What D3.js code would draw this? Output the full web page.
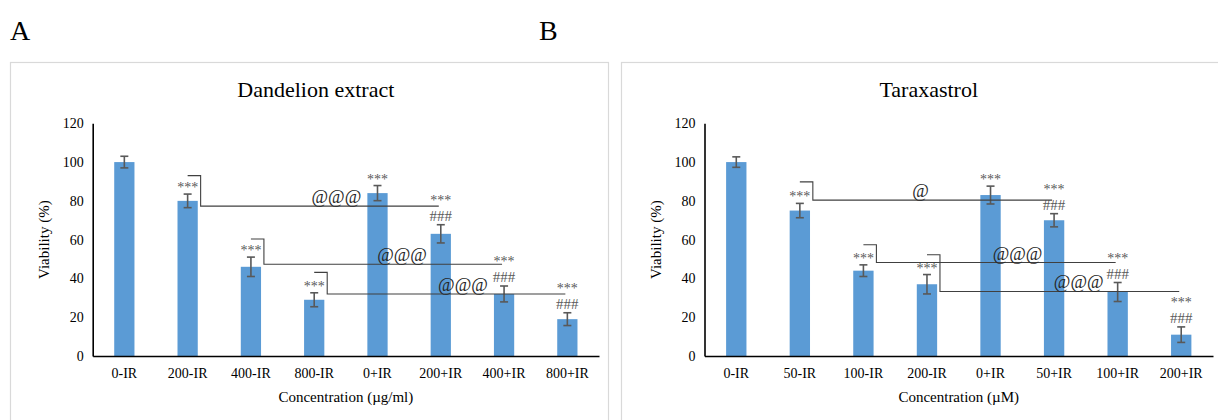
<!DOCTYPE html>
<html>
<head>
<meta charset="utf-8">
<script src="https://cdn.jsdelivr.net/npm/d3@7"></script>
<style>
	body { margin: 0; background: #fff; }
	svg text { font-family: "Liberation Serif", "Times New Roman", serif; }
</style>
</head>
<body>
<div id="chart"></div>
<script>
//------------------------------------------------------------------------------
// data
//------------------------------------------------------------------------------
var yTicks = [0, 20, 40, 60, 80, 100, 120];

var dandelionCats  = ['0-IR', '200-IR', '400-IR', '800-IR', '0+IR', '200+IR', '400+IR', '800+IR'];
var dandelionVals  = [100, 80, 46, 29, 84, 63, 32, 19];
var dandelionErr   = [3, 3.5, 5, 3.6, 3.9, 4.7, 4.1, 3.3];
var dandelionStars = ['', '***', '***', '***', '***', '***', '***', '***'];
var dandelionHash  = ['', '', '', '', '', '###', '###', '###'];
// bracket: from bar, to bar, upper level, line level, label, label spot along line
var dandelionBrackets = [
	{f: '200-IR', t: '200+IR', hi: 93, lo: 77.3, s: '@@@', at: 0.57},
	{f: '400-IR', t: '400+IR', hi: 60.3, lo: 47.3, s: '@@@', at: 0.58},
	{f: '800-IR', t: '800+IR', hi: 43.1, lo: 32, s: '@@@', at: 0.57}
];

var taraxCats  = ['0-IR', '50-IR', '100-IR', '200-IR', '0+IR', '50+IR', '100+IR', '200+IR'];
var taraxVals  = [100, 75, 44, 37, 83, 70, 33, 11];
var taraxErr   = [2.7, 3.7, 3, 5, 4.6, 3.4, 4.9, 4];
var taraxStars = ['', '***', '***', '***', '***', '***', '***', '***'];
var taraxHash  = ['', '', '', '', '', '###', '###', '###'];
var taraxBrackets = [
	{f: '50-IR', t: '50+IR', hi: 89.8, lo: 80.4, s: '@', at: 0.45},
	{f: '100-IR', t: '100+IR', hi: 57.4, lo: 48.2, s: '@@@', at: 0.59},
	{f: '200-IR', t: '200+IR', hi: 52.2, lo: 33.3, s: '@@@', at: 0.58}
];

//------------------------------------------------------------------------------
var W = 1218, H = 420;

var svg = d3.select('#chart')
	.append('svg')
	.attr('width', W)
	.attr('height', H);

// panel letters
svg.append('text').attr('x', 10).attr('y', 40)
	.style('font-size', '28px').text('A');
svg.append('text').attr('x', 539).attr('y', 40)
	.style('font-size', '28px').text('B');

drawPanel({
	box: [10, 62, 598, 370],
	x0: 92.7, x1: 599,
	title: 'Dandelion extract',
	xTitle: 'Concentration (\u00b5g/ml)',
	cats: dandelionCats, vals: dandelionVals, err: dandelionErr,
	stars: dandelionStars, hash: dandelionHash, brackets: dandelionBrackets
});

drawPanel({
	box: [621, 62, 610, 370],
	x0: 704.5, x1: 1213,
	title: 'Taraxastrol',
	xTitle: 'Concentration (\u00b5M)',
	cats: taraxCats, vals: taraxVals, err: taraxErr,
	stars: taraxStars, hash: taraxHash, brackets: taraxBrackets
});

//------------------------------------------------------------------------------
function drawPanel(o) {
	var yBot = 356, yTop = 123.3;

	// light chart-area frame
	svg.append('rect')
		.attr('x', o.box[0] + 0.5).attr('y', o.box[1] + 0.5)
		.attr('width', o.box[2]).attr('height', o.box[3])
		.attr('fill', 'none')
		.attr('stroke', '#d9d9d9')
		.attr('stroke-width', 1.2);

	var x = d3.scaleBand().domain(o.cats).range([o.x0, o.x1]).paddingInner(0.68).paddingOuter(0.34);
	var y = d3.scaleLinear().domain([0, 120]).range([yBot, yTop]);
	var cx = function(c) { return x(c) + x.bandwidth() / 2; };

	var rows = o.cats.map(function(c, i) {
		return {c: c, v: o.vals[i], e: o.err[i], s: o.stars[i], h: o.hash[i]};
	});

	var g = svg.append('g');

	// bars
	g.selectAll('.bar')
		.data(rows)
		.enter()
		.append('rect')
		.attr('class', 'bar')
		.attr('x', function(d) { return x(d.c); })
		.attr('width', x.bandwidth())
		.attr('y', function(d) { return y(d.v); })
		.attr('height', function(d) { return yBot - y(d.v); })
		.attr('fill', '#5b9bd5');

	// error bars
	var eb = g.selectAll('.err')
		.data(rows)
		.enter()
		.append('g')
		.attr('class', 'err')
		.attr('stroke', '#595959')
		.attr('stroke-width', 1.6);
	eb.append('line')
		.attr('x1', function(d) { return cx(d.c); })
		.attr('x2', function(d) { return cx(d.c); })
		.attr('y1', function(d) { return y(d.v + d.e); })
		.attr('y2', function(d) { return y(d.v - d.e); });
	[1, -1].forEach(function(k) {
		eb.append('line')
			.attr('x1', function(d) { return cx(d.c) - 4; })
			.attr('x2', function(d) { return cx(d.c) + 4; })
			.attr('y1', function(d) { return y(d.v + k * d.e); })
			.attr('y2', function(d) { return y(d.v + k * d.e); });
	});

	// significance marks
	g.selectAll('.hash')
		.data(rows.filter(function(d) { return d.h; }))
		.enter()
		.append('text')
		.attr('x', function(d) { return cx(d.c); })
		.attr('y', function(d) { return y(d.v + d.e) - 4; })
		.attr('text-anchor', 'middle')
		.attr('fill', '#595959')
		.style('font-size', '15px')
		.text(function(d) { return d.h; });

	g.selectAll('.stars')
		.data(rows.filter(function(d) { return d.s; }))
		.enter()
		.append('text')
		.attr('x', function(d) { return cx(d.c); })
		.attr('y', function(d) { return y(d.v + d.e) - (d.h ? 20 : 2); })
		.attr('text-anchor', 'middle')
		.attr('fill', '#595959')
		.style('font-size', '14px')
		.text(function(d) { return d.s; });

	// comparison brackets
	o.brackets.forEach(function(b) {
		var xa = cx(b.f), xc = xa + 13, xe = cx(b.t) - 2;
		g.append('path')
			.attr('d', 'M' + xa + ',' + y(b.hi) + 'H' + xc + 'V' + y(b.lo) + 'H' + xe)
			.attr('fill', 'none')
			.attr('stroke', '#404040')
			.attr('stroke-width', 1.1);
		g.append('text')
			.attr('x', xc + (xe - xc) * b.at)
			.attr('y', y(b.lo) - 3)
			.attr('text-anchor', 'middle')
			.attr('fill', '#262626')
			.style('font-size', '18px')
			.text(b.s);
	});

	// y axis
	var ya = svg.append('g')
		.attr('transform', 'translate(' + o.x0 + ',0)')
		.call(d3.axisLeft(y).tickValues(yTicks).tickSize(0).tickPadding(9));
	ya.select('.domain').attr('stroke', '#000').attr('stroke-width', 1.6);
	ya.selectAll('text')
		.style('font-family', '"Liberation Serif", serif')
		.style('font-size', '14px')
		.attr('fill', '#000');

	// x axis
	var xa = svg.append('g')
		.attr('transform', 'translate(0,' + yBot + ')')
		.call(d3.axisBottom(x).tickSize(0).tickPadding(12));
	xa.select('.domain').attr('stroke', '#000').attr('stroke-width', 1.6);
	xa.selectAll('text')
		.style('font-family', '"Liberation Serif", serif')
		.style('font-size', '14px')
		.attr('fill', '#000');

	// titles
	var mid = (o.x0 + o.x1) / 2;
	svg.append('text')
		.attr('x', mid - 30).attr('y', 97)
		.attr('text-anchor', 'middle')
		.style('font-size', '22px')
		.text(o.title);

	svg.append('text')
		.attr('x', mid).attr('y', 402)
		.attr('text-anchor', 'middle')
		.style('font-size', '15px')
		.text(o.xTitle);

	svg.append('text')
		.attr('transform', 'translate(' + (o.x0 - 44) + ',' + ((yBot + yTop) / 2) + ')rotate(-90)')
		.attr('text-anchor', 'middle')
		.style('font-size', '15px')
		.text('Viability (%)');
}
</script>
</body>
</html>
